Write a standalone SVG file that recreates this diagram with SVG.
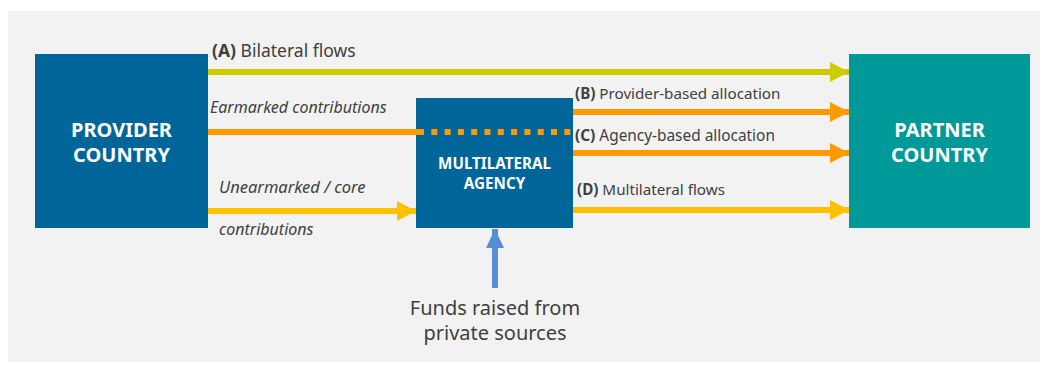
<svg xmlns="http://www.w3.org/2000/svg" width="1045" height="365" viewBox="0 0 1045 365">
<defs>
<style>
.box-t{font-family:"Noto Sans","Open Sans","Liberation Sans",sans-serif;font-weight:bold;fill:#ffffff;text-anchor:middle}
.lbl{font-family:"Noto Sans","Open Sans","Liberation Sans",sans-serif;fill:#404040}
.it{font-style:italic}
.b{font-weight:bold}
.ln{fill:none;stroke-width:6}
</style>
<marker id="hG" markerUnits="userSpaceOnUse" markerWidth="20" markerHeight="20" refX="19" refY="10" orient="auto"><path d="M0,0 L19,10 L0,20 Z" fill="#CCCC00"/></marker>
<marker id="hO" markerUnits="userSpaceOnUse" markerWidth="20" markerHeight="20" refX="19" refY="10" orient="auto"><path d="M0,0 L19,10 L0,20 Z" fill="#FF9900"/></marker>
<marker id="hY" markerUnits="userSpaceOnUse" markerWidth="20" markerHeight="20" refX="19" refY="10" orient="auto"><path d="M0,0 L19,10 L0,20 Z" fill="#FFC000"/></marker>
<marker id="hB" markerUnits="userSpaceOnUse" markerWidth="20" markerHeight="20" refX="19" refY="9" orient="auto"><path d="M0,0 L19,9 L0,18 Z" fill="#558ED5"/></marker>
</defs>
<rect x="8" y="11" width="1032" height="351" fill="#F2F2F2"/>
<g id="provider">
<rect x="35" y="54" width="173" height="174" fill="#006699"/>
<text class="box-t" font-size="20"><tspan x="121.5" y="137">PROVIDER</tspan><tspan x="121.5" y="162">COUNTRY</tspan></text>
</g>
<g id="agency">
<rect x="416" y="98" width="157" height="130" fill="#006699"/>
<text class="box-t" font-size="15.2"><tspan x="494.5" y="169">MULTILATERAL</tspan><tspan x="494.5" y="188.5">AGENCY</tspan></text>
</g>
<g id="partner">
<rect x="849" y="54" width="181" height="174" fill="#009999"/>
<text class="box-t" font-size="20"><tspan x="939.5" y="137">PARTNER</tspan><tspan x="939.5" y="162">COUNTRY</tspan></text>
</g>
<g id="connectors">
<line class="ln" x1="208" y1="72" x2="849" y2="72" stroke="#CCCC00" marker-end="url(#hG)"/>
<line class="ln" x1="208" y1="132" x2="418" y2="132" stroke="#FF9900"/>
<line class="ln" x1="418" y1="132" x2="572" y2="132" stroke="#FF9900" stroke-dasharray="6 7.3"/>
<line class="ln" x1="208" y1="211" x2="416" y2="211" stroke="#FFC000" marker-end="url(#hY)"/>
<line class="ln" x1="573" y1="112" x2="849" y2="112" stroke="#FF9900" marker-end="url(#hO)"/>
<line class="ln" x1="573" y1="153" x2="849" y2="153" stroke="#FF9900" marker-end="url(#hO)"/>
<line class="ln" x1="573" y1="210" x2="849" y2="210" stroke="#FFC000" marker-end="url(#hY)"/>
<line class="ln" x1="495" y1="288" x2="495" y2="229" stroke="#558ED5" marker-end="url(#hB)"/>
</g>
<g id="labels">
<text class="lbl" x="212" y="57" font-size="17.5"><tspan class="b">(A)</tspan> Bilateral flows</text>
<text class="lbl it" x="210" y="113" font-size="16">Earmarked contributions</text>
<text class="lbl it" x="219" y="193" font-size="16.5">Unearmarked / core</text>
<text class="lbl it" x="219" y="235" font-size="16">contributions</text>
<text class="lbl" x="575" y="99" font-size="15.2"><tspan class="b">(B)</tspan> Provider-based allocation</text>
<text class="lbl" x="575" y="141" font-size="15.4"><tspan class="b">(C)</tspan> Agency-based allocation</text>
<text class="lbl" x="577" y="195" font-size="15.2"><tspan class="b">(D)</tspan> Multilateral flows</text>
<text class="lbl" font-size="20" text-anchor="middle"><tspan x="495" y="315">Funds raised from</tspan><tspan x="495" y="340">private sources</tspan></text>
</g>
</svg>
